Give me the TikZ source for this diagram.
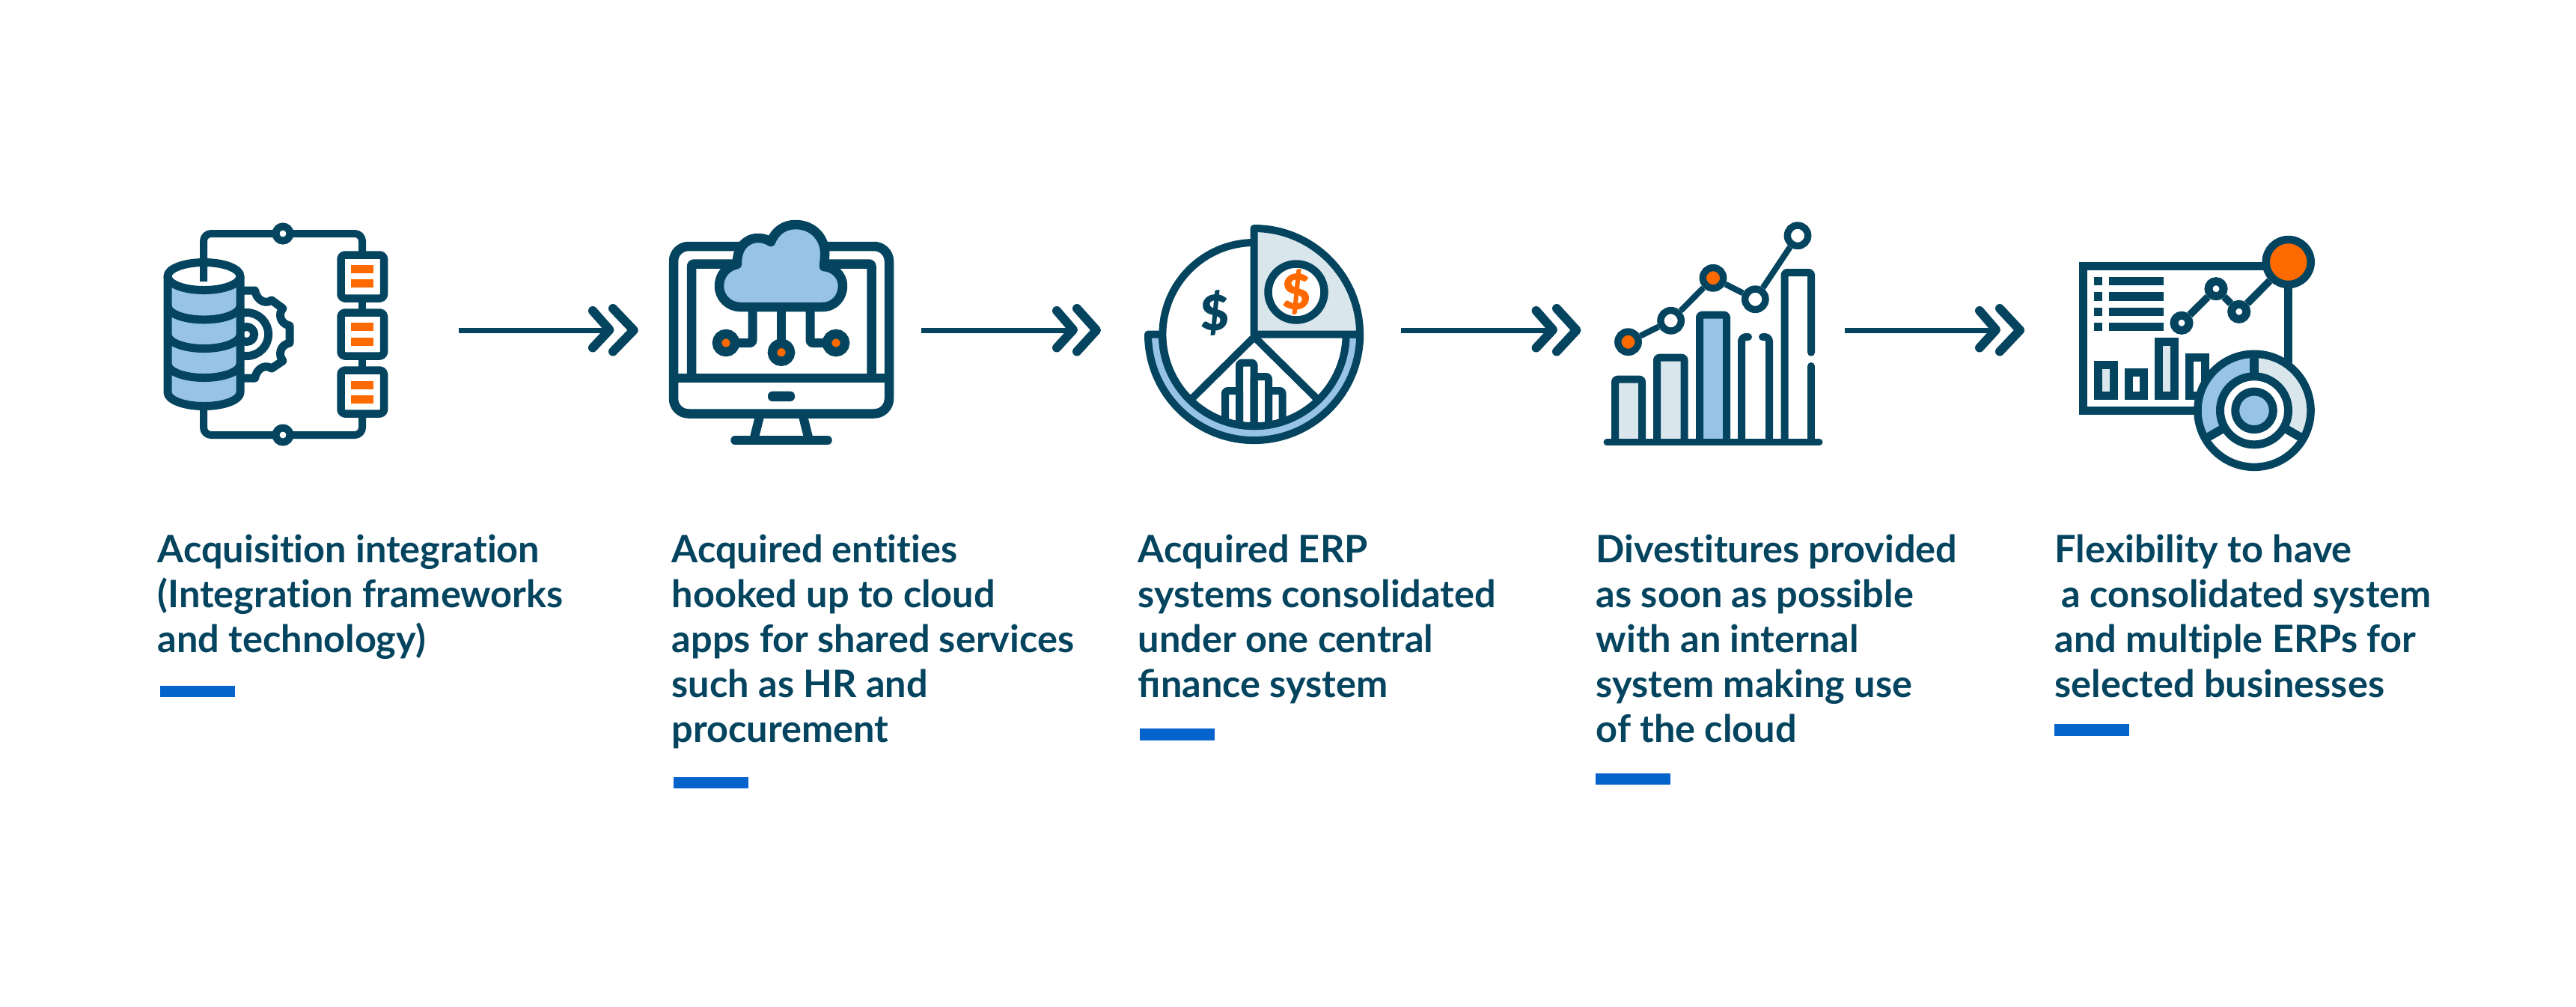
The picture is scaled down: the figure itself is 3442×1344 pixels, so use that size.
\documentclass[tikz,border=0pt]{standalone}
\usepackage{fontspec}
\setmainfont{Lato}[BoldFont={Lato Bold}]
\newfontfamily\capfont{Lato Bold}[Ligatures=NoCommon]
\newfontfamily\markfont{Lato Black}
\definecolor{ink}{HTML}{04445F}
\definecolor{sky}{HTML}{97C3E4}
\definecolor{pale}{HTML}{D9E6EC}
\definecolor{hot}{HTML}{FF6A00}
\definecolor{bar}{HTML}{0563CC}
\tikzset{
  lw/.style={line width=#1*0.01cm},
  icon/.style={draw=ink,lw=10,line join=round},
  dot/.style={circle,draw=ink,fill=white,inner sep=0pt,minimum size=#1*0.01cm},
  shaft/.style={draw=ink,lw=7},
  chev/.style={draw=ink,lw=12,line cap=round,line join=round},
  captext/.style={anchor=base west,inner sep=0pt,text=ink,font=\capfont\fontsize{14.35}{17.07}\selectfont},
  rr/.style={rounded corners=0.03cm}
}
\newcommand{\capt}[1]{\begin{tabular}[t]{@{}l@{}}#1\end{tabular}}
\begin{document}
\begin{tikzpicture}[x=0.01cm,y=-0.01cm]
\useasboundingbox (0,0) rectangle (3442,1344);
\fill[white] (0,0) rectangle (3442,1344);

% ---------- icon 1
\draw[icon,lw=11] (326,388)--(340.7,388) .. controls (342,398) and (352,408) .. (363,401) -- (378,412) .. controls (372,418) and (373,432) .. (387,435) -- (387,458) .. controls (373,461) and (372,475) .. (378,482) -- (363,492) .. controls (352,485) and (342,495) .. (340.7,505) -- (326,505);
\draw[icon,lw=11] (329.6,446.5) circle[radius=.29cm];
\node[dot=20,lw=11] (gearhub) at (329.6,446.5) {};
\path[fill=sky] (224,369) -- (224,524) arc[start angle=180,end angle=360,x radius=.485cm,y radius=.185cm] -- (321,369) -- cycle;
\draw[icon,lw=11,fill=white] (272.5,369) ellipse[x radius=.485cm,y radius=.185cm];
\draw[icon,lw=11] (224,369) -- (224,524) arc[start angle=180,end angle=360,x radius=.485cm,y radius=.185cm] -- (321,369);
\foreach \yy in {408.5,447,486}
  \draw[icon,lw=11] (224,\yy) arc[start angle=180,end angle=360,x radius=.485cm,y radius=.185cm];
\draw[icon,rounded corners=.1cm] (272,376)--(272,312)--(484,312)--(484,340);
\draw[icon,rounded corners=.1cm] (272,545)--(272,581)--(484,581)--(484,552);
\draw[icon] (484,398)--(484,418) (484,475)--(484,495);
\node[dot=19,lw=10] (topknob) at (378,312) {};
\node[dot=19,lw=10] (botknob) at (378,581) {};
\foreach \yy/\ya/\yb/\yc/\yd in {340.5/354/365/373/384,417.5/431/442/451/462,494.5/509/520/528/539}{
  \draw[icon,lw=10.5,fill=white,rounded corners=.05cm] (455.5,\yy) rectangle (513,\yy+58);
  \fill[hot] (469,\ya) rectangle (499,\yb);
  \fill[hot] (469,\yc) rectangle (499,\yd);
}

% ---------- icon 2
\draw[icon,lw=12.5,rounded corners=.2cm] (900,329) rectangle (1188,552.5);
\draw[icon,lw=12.5,rr] (924,505) -- (924,352.5) -- (1164.5,352.5) -- (1164.5,505);
\draw[icon,lw=12.5] (900,505) -- (1188,505);
\fill[ink,rounded corners=.06cm] (1026,522.7) rectangle (1062,536);
\draw[icon,lw=12] (1015,556) -- (1008,584);
\draw[icon,lw=12] (1073,556) -- (1080,584);
\draw[icon,lw=11.5,line cap=round] (982,588) -- (1106,588);
\draw[icon,lw=12.5,fill=sky] (989,410) -- (1099,410) .. controls (1116,410) and (1126,396) .. (1126,382) .. controls (1126,367) and (1114,357) .. (1101,356) .. controls (1101,352) and (1102,348) .. (1102,342) .. controls (1104,320) and (1088,300) .. (1063,300) .. controls (1048,300) and (1036,308) .. (1030,323) .. controls (1024,319) and (1018,318) .. (1013,318) .. controls (996,318) and (984,332) .. (985,353) .. controls (970,356) and (961,368) .. (961,382) .. controls (961,398) and (974,410) .. (989,410) -- cycle;
\draw[icon,lw=12,rr] (1005.5,410) -- (1005.5,458) -- (970,458);
\draw[icon,lw=12,rr] (1082.5,410) -- (1082.5,458) -- (1117,458);
\draw[icon,lw=12] (1044,410) -- (1044,470);
\node[dot=24,lw=12.5,fill=hot] (leafa) at (970,458) {};
\node[dot=24,lw=12.5,fill=hot] (leafb) at (1044,470.7) {};
\node[dot=24,lw=12.5,fill=hot] (leafc) at (1117,458) {};

% ---------- icon 3
\draw[icon,fill=sky] (1534,446.5) arc[start angle=180,end angle=360,radius=1.415cm] -- (1798,446.5) arc[start angle=360,end angle=180,radius=1.225cm] -- cycle;
\fill[white] (1676,446) circle[radius=1.225cm];
\begin{scope}
  \clip (1676,446) circle[radius=1.225cm];
  \draw[icon,rr] (1637,600) -- (1637,522) -- (1656,522) -- (1656,600);
  \draw[icon,rr] (1656,600) -- (1656,484.5) -- (1675.5,484.5) -- (1675.5,600);
  \draw[icon,rr] (1675.5,600) -- (1675.5,503) -- (1695,503) -- (1695,600);
  \draw[icon,rr] (1695,600) -- (1695,522) -- (1713.5,522) -- (1713.5,600);
\end{scope}
\draw[icon] (1676,324) arc[start angle=90,end angle=360,radius=1.225cm];
\draw[icon] (1676,450) -- (1593,532);
\draw[icon] (1676,450) -- (1759,532);
\draw[icon,fill=pale] (1675.5,446.5) -- (1675.5,305) arc[start angle=90,end angle=0,radius=1.415cm] -- cycle;
\node[dot=75,lw=10.5] (coin) at (1732,390) {};
\node[inner sep=0pt,text=hot,font=\markfont\fontsize{18.5}{20}\selectfont] (coinmark) at (1732,390) {\$};
\node[inner sep=0pt,text=ink,font=\markfont\fontsize{18.5}{20}\selectfont] (piemark) at (1623.7,417.7) {\$};

% ---------- icon 4
\draw[icon,fill=pale,rr] (2158,590) -- (2158,506.7) -- (2194,506.7) -- (2194,590);
\draw[icon,fill=pale,rr] (2214,590) -- (2214,477.7) -- (2250.5,477.7) -- (2250.5,590);
\draw[icon,fill=sky,rr] (2271,590) -- (2271,420.7) -- (2307,420.7) -- (2307,590);
\draw[icon,line cap=round,rounded corners=.06cm] (2327,590) -- (2327,450) -- (2336,450);
\draw[icon,line cap=round,rounded corners=.06cm] (2355,450) -- (2364,450) -- (2364,590);
\draw[icon,line cap=round,rr] (2384.5,590) -- (2384.5,364) -- (2420,364) -- (2420,470.7);
\draw[icon,line cap=round] (2420,489) -- (2420,590);
\draw[icon,lw=9,line cap=round] (2147,590.5) -- (2431,590.5);
\node[dot=27.4,lw=9.4,fill=hot] (ptA) at (2175.5,456.7) {};
\node[dot=27.4,lw=9.4] (ptB) at (2232.6,428.3) {};
\node[dot=27.4,lw=9.4,fill=hot] (ptC) at (2289,371.3) {};
\node[dot=27.4,lw=9.4] (ptD) at (2345.3,399.7) {};
\node[dot=27.4,lw=9.4] (ptE) at (2402,314.7) {};
\draw[icon,lw=8] (ptA) -- (ptB);
\draw[icon,lw=8] (ptB) -- (ptC);
\draw[icon,lw=8] (ptC) -- (ptD);
\draw[icon,lw=8] (ptD) -- (ptE);

% ---------- icon 5
\draw[icon,lw=11,line join=miter] (3057.5,548.5) -- (3057.5,355.5) -- (2783.5,355.5) -- (2783.5,548.5) -- cycle;
\foreach \ya/\yb in {370/381,390/402,411/422,431/442}{
  \fill[ink] (2798,\ya) rectangle (2809,\yb);
  \fill[ink] (2818,\ya) rectangle (2891,\yb);
}
\draw[icon,lw=11,line join=miter,fill=pale] (2803.5,487.5) rectangle (2824.5,528.5);
\draw[icon,lw=11,line join=miter,fill=white] (2844.5,497.5) rectangle (2864.5,528.5);
\draw[icon,lw=11,line join=miter,fill=pale] (2884.5,456.5) rectangle (2905.5,528.5);
\draw[icon,lw=11,line join=miter,fill=white] (2925.5,477.5) rectangle (2946.5,528.5);
\node[dot=20,lw=11] (lnA) at (2915,431.3) {};
\node[dot=20,lw=11] (lnB) at (2961,385.7) {};
\node[dot=20,lw=11] (lnC) at (2991.7,416.3) {};
\node[dot=60,lw=10.5,fill=hot] (lnD) at (3057.7,350) {};
\draw[icon,lw=10] (lnA) -- (lnB);
\draw[icon,lw=10] (lnB) -- (lnC);
\draw[icon,lw=10] (lnC) -- (lnD);
\begin{scope}[shift={(3012,548.3)}]
  \fill[white] (0,0) circle[radius=.755cm];
  \fill[sky] (90:.755cm) arc[start angle=90,end angle=210,radius=.755cm] -- (210:.455cm) arc[start angle=210,end angle=90,radius=.455cm] -- cycle;
  \fill[pale] (90:.755cm) arc[start angle=90,end angle=-30,radius=.755cm] -- (-30:.455cm) arc[start angle=-30,end angle=90,radius=.455cm] -- cycle;
  \draw[icon,lw=10.5] (0,0) circle[radius=.755cm];
  \draw[icon,lw=11.5] (90:.455cm) -- (90:.755cm);
  \draw[icon,lw=11.5] (210:.455cm) -- (210:.755cm);
  \draw[icon,lw=11.5] (-30:.455cm) -- (-30:.755cm);
  \draw[icon,lw=11,fill=white] (0,0) circle[radius=.455cm];
  \draw[icon,lw=11,fill=sky] (0,0) circle[radius=.253cm];
\end{scope}

% ---------- arrows
\foreach \n/\xs/\xe/\xa/\xb/\xc/\xd in {1/612.5/813/792/814.5/819/846.7,2/1231.4/1432/1412/1434/1439/1465,3/1872/2073/2052.6/2075/2080/2106.5,4/2464.5/2665/2645/2667/2672/2699}{
  \coordinate (arrowstart\n) at (\xs,441);
  \coordinate (arrowend\n) at (\xe,441);
  \draw[shaft] (arrowstart\n) -- (arrowend\n);
  \draw[chev] (\xa,415) -- (\xb,440.5) -- (\xa,464.5);
  \draw[chev] (\xc,412) -- (\xd,441) -- (\xc,469.5);
}

% ---------- captions
\node[captext] (capA) at (210,751) {\capt{Acquisition integration\\(Integration frameworks\\and technology)}};
\node[captext] (capB) at (897,751) {\capt{Acquired entities\\hooked up to cloud\\apps for shared services\\such as HR and\\procurement}};
\node[captext] (capC) at (1520,751) {\capt{Acquired ERP\\systems consolidated\\under one central\\ﬁnance system}};
\node[captext] (capD) at (2132,751) {\capt{Divestitures provided\\as soon as possible\\with an internal\\system making use\\of the cloud}};
\node[captext] (capE) at (2745,751) {\capt{Flexibility to have\\\hspace*{0.09cm}a consolidated system\\and multiple ERPs for\\selected businesses}};
\fill[bar] (214,915.7) rectangle (314,930.7);
\fill[bar] (900,1038) rectangle (1000,1053);
\fill[bar] (1523,973) rectangle (1623,988.5);
\fill[bar] (2132,1033) rectangle (2232,1048);
\fill[bar] (2745,967) rectangle (2845,982.5);
\end{tikzpicture}
\end{document}
